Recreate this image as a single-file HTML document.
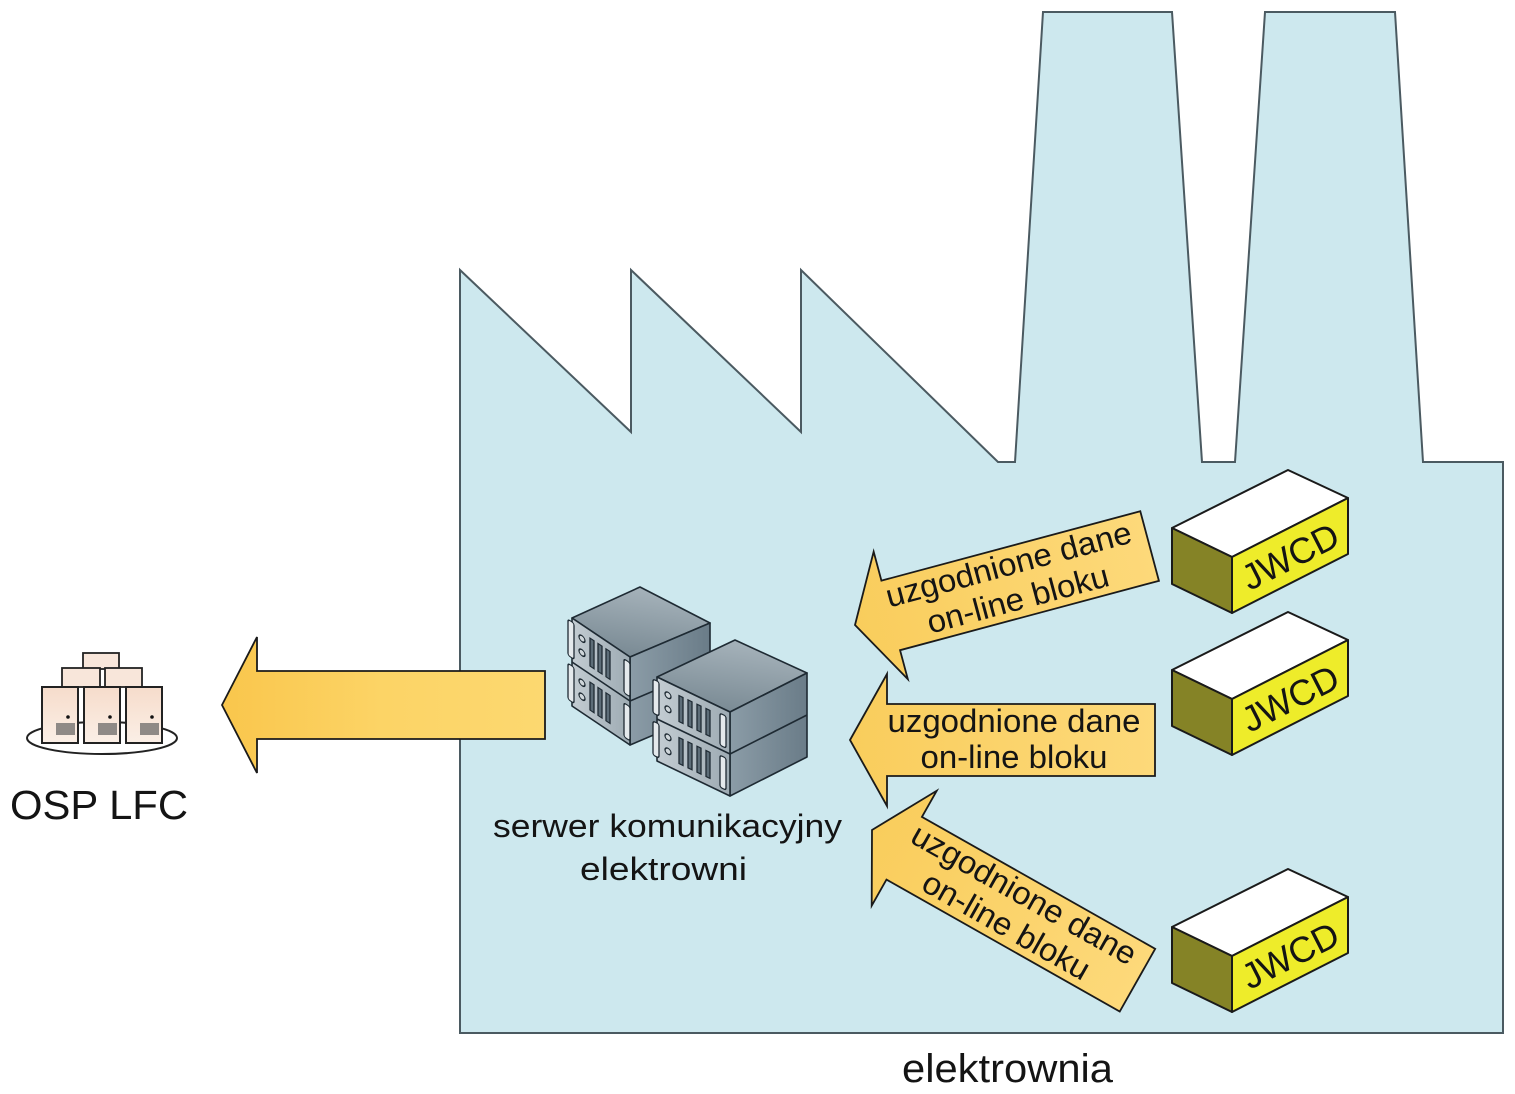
<!DOCTYPE html>
<html>
<head>
<meta charset="utf-8">
<style>
  html,body{margin:0;padding:0;background:#ffffff;}
  svg{display:block;}
  text{font-family:"Liberation Sans", Arial, sans-serif; fill:#141414;}
</style>
</head>
<body>
<svg width="1515" height="1094" viewBox="0 0 1515 1094" xmlns="http://www.w3.org/2000/svg">
  <defs>
    <linearGradient id="arrG" x1="0" y1="0" x2="1" y2="0">
      <stop offset="0" stop-color="#f9c64c"/>
      <stop offset="0.5" stop-color="#fcd466"/>
      <stop offset="1" stop-color="#fcd870"/>
    </linearGradient>
    <linearGradient id="arrS" x1="0" y1="0" x2="1" y2="0">
      <stop offset="0" stop-color="#f9cd5c"/>
      <stop offset="1" stop-color="#fdd97a"/>
    </linearGradient>
    <linearGradient id="topG" x1="0" y1="1" x2="0.3" y2="0">
      <stop offset="0" stop-color="#74858f"/>
      <stop offset="1" stop-color="#a3b0b8"/>
    </linearGradient>
    <linearGradient id="sideG" x1="0" y1="0" x2="1" y2="0">
      <stop offset="0" stop-color="#8b9ca7"/>
      <stop offset="1" stop-color="#6a7c88"/>
    </linearGradient>
    <linearGradient id="ventG" x1="0" y1="0" x2="1" y2="0">
      <stop offset="0" stop-color="#c3ccd2"/>
      <stop offset="1" stop-color="#9eabb3"/>
    </linearGradient>
    <linearGradient id="pcG" x1="0" y1="0" x2="0" y2="1">
      <stop offset="0" stop-color="#f6dccb"/>
      <stop offset="1" stop-color="#fbefe6"/>
    </linearGradient>
  </defs>

  <!-- factory -->
  <polygon points="460,270 631,432 631,270 801,432 801,270 998,462 1015,462 1043,12 1172,12 1202,462 1235,462 1265,12 1395,12 1423,462 1503,462 1503,1033 460,1033"
           fill="#cde8ee" stroke="#4b5a61" stroke-width="2" stroke-linejoin="miter"/>

  <!-- OSP LFC icon -->
  <ellipse cx="102" cy="738" rx="75" ry="16" fill="#ffffff" stroke="#222" stroke-width="2"/>
  <rect x="83" y="653" width="36" height="16" fill="#f8e6da" stroke="#222" stroke-width="1.8"/>
  <rect x="62" y="668" width="38" height="19" fill="#f8e6da" stroke="#222" stroke-width="1.8"/>
  <rect x="105" y="668" width="37" height="19" fill="#f8e6da" stroke="#222" stroke-width="1.8"/>
  <g stroke="#222" stroke-width="2">
    <rect x="42" y="687" width="36" height="56" fill="url(#pcG)"/>
    <rect x="84" y="687" width="36" height="56" fill="url(#pcG)"/>
    <rect x="126" y="687" width="36" height="56" fill="url(#pcG)"/>
  </g>
  <g fill="#111">
    <circle cx="68" cy="717" r="1.8"/>
    <circle cx="110" cy="717" r="1.8"/>
    <circle cx="152" cy="717" r="1.8"/>
  </g>
  <g fill="#8f8a86">
    <rect x="56" y="723" width="19" height="12"/>
    <rect x="98" y="723" width="19" height="12"/>
    <rect x="140" y="723" width="19" height="12"/>
  </g>
  <text x="10" y="819" font-size="41" textLength="178" lengthAdjust="spacingAndGlyphs">OSP LFC</text>

  <!-- big arrow -->
  <polygon points="222,705 257,637 257,671 545,671 545,739 257,739 257,773"
           fill="url(#arrG)" stroke="#1a1a1a" stroke-width="1.8" stroke-linejoin="miter"/>

  <!-- server: left stack -->
  <g stroke="#1e2a33" stroke-width="1.6" stroke-linejoin="round">
    <polygon points="572,618 640,587 710,623 630,657" fill="url(#topG)"/>
    <polygon points="630,657 710,623 710,711 630,745" fill="url(#sideG)"/>
    <polygon points="572,618 630,657 630,745 572,706" fill="url(#ventG)"/>
    <line x1="572" y1="662" x2="630" y2="701"/>
    <line x1="630" y1="701" x2="710" y2="667"/>
  </g>
  <g transform="matrix(1,0.67,0,1,572,618)" stroke="#1e2a33" stroke-width="1.3">
    <g>
      <rect x="-4" y="4" width="6" height="36" rx="2" fill="#e4e9ec"/>
      <circle cx="10" cy="14" r="3" fill="#cfd6da"/>
      <circle cx="10" cy="28" r="3" fill="#cfd6da"/>
      <rect x="18" y="8" width="4" height="28" fill="#5d6d78"/>
      <rect x="26" y="8" width="4" height="28" fill="#5d6d78"/>
      <rect x="34" y="8" width="4" height="28" fill="#5d6d78"/>
      <rect x="52" y="6" width="6" height="34" rx="2" fill="#e4e9ec"/>
    </g>
    <g transform="translate(0,44)">
      <rect x="-4" y="4" width="6" height="36" rx="2" fill="#e4e9ec"/>
      <circle cx="10" cy="14" r="3" fill="#cfd6da"/>
      <circle cx="10" cy="28" r="3" fill="#cfd6da"/>
      <rect x="18" y="8" width="4" height="28" fill="#5d6d78"/>
      <rect x="26" y="8" width="4" height="28" fill="#5d6d78"/>
      <rect x="34" y="8" width="4" height="28" fill="#5d6d78"/>
      <rect x="52" y="6" width="6" height="34" rx="2" fill="#e4e9ec"/>
    </g>
  </g>

  <!-- server: right stack -->
  <g stroke="#1e2a33" stroke-width="1.6" stroke-linejoin="round">
    <polygon points="657,677 735,640 807,673 730,712" fill="url(#topG)"/>
    <polygon points="730,712 807,673 807,757 730,796" fill="url(#sideG)"/>
    <polygon points="657,677 730,712 730,796 657,761" fill="url(#ventG)"/>
    <line x1="657" y1="719" x2="730" y2="754"/>
    <line x1="730" y1="754" x2="807" y2="715"/>
  </g>
  <g transform="matrix(1,0.48,0,1,657,677)" stroke="#1e2a33" stroke-width="1.3">
    <g>
      <rect x="-4" y="4" width="6" height="34" rx="2" fill="#e4e9ec"/>
      <circle cx="11" cy="13" r="3" fill="#cfd6da"/>
      <circle cx="11" cy="27" r="3" fill="#cfd6da"/>
      <rect x="22" y="8" width="4" height="26" fill="#5d6d78"/>
      <rect x="31" y="8" width="4" height="26" fill="#5d6d78"/>
      <rect x="40" y="8" width="4" height="26" fill="#5d6d78"/>
      <rect x="49" y="8" width="4" height="26" fill="#5d6d78"/>
      <rect x="63" y="6" width="6" height="32" rx="2" fill="#e4e9ec"/>
    </g>
    <g transform="translate(0,42)">
      <rect x="-4" y="4" width="6" height="34" rx="2" fill="#e4e9ec"/>
      <circle cx="11" cy="13" r="3" fill="#cfd6da"/>
      <circle cx="11" cy="27" r="3" fill="#cfd6da"/>
      <rect x="22" y="8" width="4" height="26" fill="#5d6d78"/>
      <rect x="31" y="8" width="4" height="26" fill="#5d6d78"/>
      <rect x="40" y="8" width="4" height="26" fill="#5d6d78"/>
      <rect x="49" y="8" width="4" height="26" fill="#5d6d78"/>
      <rect x="63" y="6" width="6" height="32" rx="2" fill="#e4e9ec"/>
    </g>
  </g>

  <text x="493" y="837" font-size="32" textLength="349" lengthAdjust="spacingAndGlyphs">serwer komunikacyjny</text>
  <text x="580" y="880" font-size="32" textLength="167" lengthAdjust="spacingAndGlyphs">elektrowni</text>

  <!-- small arrows -->
  <g transform="translate(855,625) rotate(-15)">
    <polygon points="0,0 37,-66 37,-36 305,-36 305,36 37,36 37,66" fill="url(#arrS)" stroke="#1a1a1a" stroke-width="1.8"/>
    <text x="164" y="-8" font-size="32" text-anchor="middle" textLength="253" lengthAdjust="spacingAndGlyphs">uzgodnione dane</text>
    <text x="164" y="28" font-size="32" text-anchor="middle" textLength="187" lengthAdjust="spacingAndGlyphs">on-line bloku</text>
  </g>
  <g transform="translate(850,740)">
    <polygon points="0,0 37,-66 37,-36 305,-36 305,36 37,36 37,66" fill="url(#arrS)" stroke="#1a1a1a" stroke-width="1.8"/>
    <text x="164" y="-8" font-size="32" text-anchor="middle" textLength="253" lengthAdjust="spacingAndGlyphs">uzgodnione dane</text>
    <text x="164" y="28" font-size="32" text-anchor="middle" textLength="187" lengthAdjust="spacingAndGlyphs">on-line bloku</text>
  </g>
  <g transform="translate(872,830) rotate(29.5)">
    <polygon points="0,0 37,-66 37,-36 305,-36 305,36 37,36 37,66" fill="url(#arrS)" stroke="#1a1a1a" stroke-width="1.8"/>
    <text x="164" y="-8" font-size="32" text-anchor="middle" textLength="253" lengthAdjust="spacingAndGlyphs">uzgodnione dane</text>
    <text x="164" y="28" font-size="32" text-anchor="middle" textLength="187" lengthAdjust="spacingAndGlyphs">on-line bloku</text>
  </g>

  <!-- JWCD boxes -->
  <g stroke="#1a1a1a" stroke-width="2" stroke-linejoin="round">
    <polygon points="1172,528 1288,470 1348,498 1232,557" fill="#ffffff"/>
    <polygon points="1172,528 1232,557 1232,613 1172,584" fill="#858326"/>
    <polygon points="1232,557 1348,498 1348,554 1232,613" fill="#eeec2a"/>
  </g>
  <text transform="translate(1290,556) rotate(-27)" x="0" y="13" font-size="36" text-anchor="middle">JWCD</text>

  <g transform="translate(0,142)" stroke="#1a1a1a" stroke-width="2" stroke-linejoin="round">
    <polygon points="1172,528 1288,470 1348,498 1232,557" fill="#ffffff"/>
    <polygon points="1172,528 1232,557 1232,613 1172,584" fill="#858326"/>
    <polygon points="1232,557 1348,498 1348,554 1232,613" fill="#eeec2a"/>
  </g>
  <text transform="translate(1290,698) rotate(-27)" x="0" y="13" font-size="36" text-anchor="middle">JWCD</text>

  <g transform="translate(0,399)" stroke="#1a1a1a" stroke-width="2" stroke-linejoin="round">
    <polygon points="1172,528 1288,470 1348,498 1232,557" fill="#ffffff"/>
    <polygon points="1172,528 1232,557 1232,613 1172,584" fill="#858326"/>
    <polygon points="1232,557 1348,498 1348,554 1232,613" fill="#eeec2a"/>
  </g>
  <text transform="translate(1290,955) rotate(-27)" x="0" y="13" font-size="36" text-anchor="middle">JWCD</text>

  <text x="902" y="1082" font-size="40" textLength="211" lengthAdjust="spacingAndGlyphs">elektrownia</text>
</svg>
</body>
</html>
